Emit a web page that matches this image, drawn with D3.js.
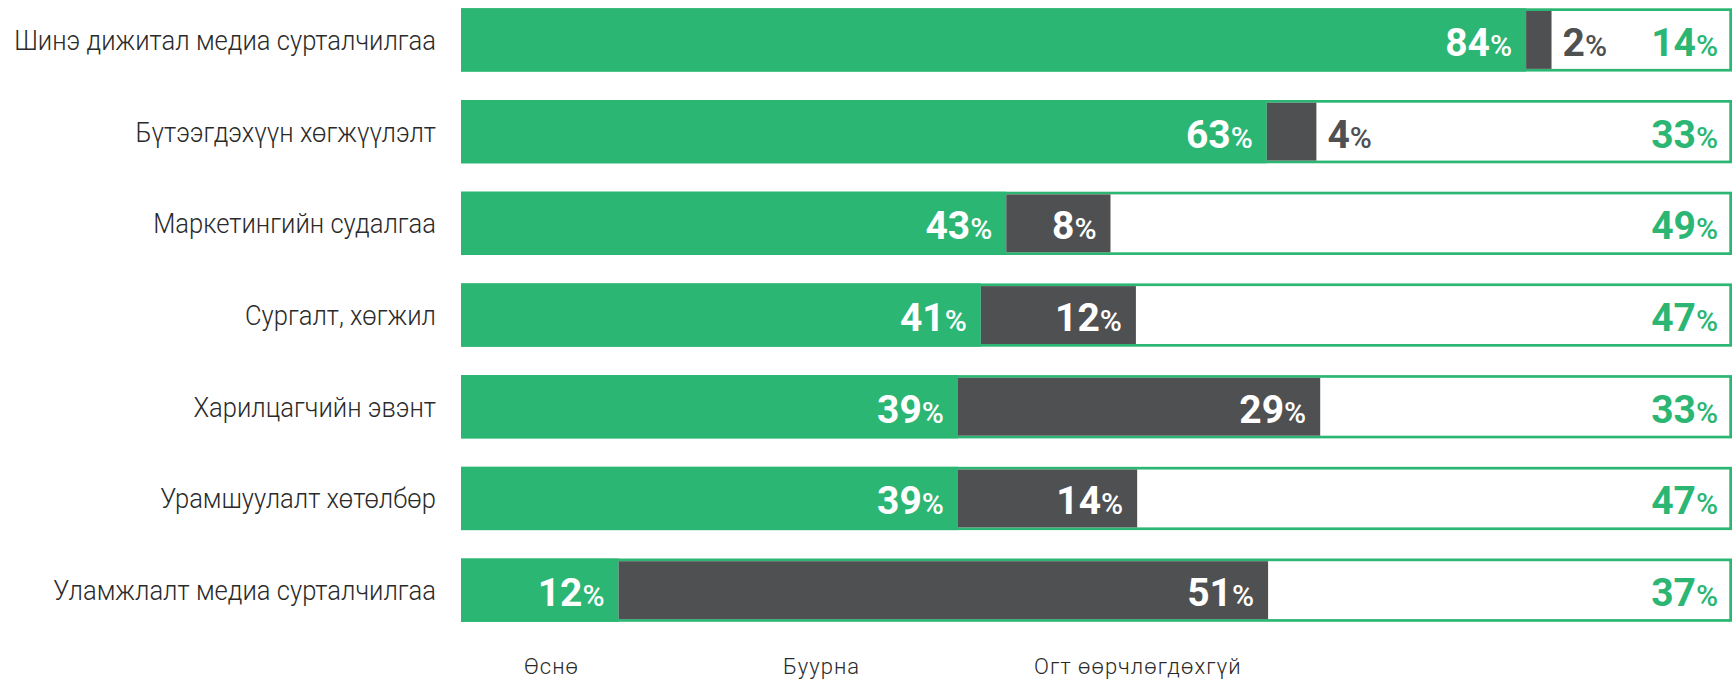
<!DOCTYPE html>
<html>
<head>
<meta charset="utf-8">
<script src="https://cdn.jsdelivr.net/npm/d3@7"></script>
<style>
  html, body { margin: 0; padding: 0; background: #fff; }
  svg { display: block; }
</style>
</head>
<body>
<div id="chart"></div>
<script>
// ---- Data ----
const categories = [
  "Шинэ дижитал медиа сурталчилгаа",
  "Бүтээгдэхүүн хөгжүүлэлт",
  "Маркетингийн судалгаа",
  "Сургалт, хөгжил",
  "Харилцагчийн эвэнт",
  "Урамшуулалт хөтөлбөр",
  "Уламжлалт медиа сурталчилгаа"
];
const increase  = [83.8, 63.4, 42.9, 40.9, 39.1, 39.1, 12.4];
const decrease  = [2.0, 3.9, 8.2, 12.2, 28.5, 14.1, 51.1];
const unchanged = [14.2, 32.7, 48.9, 46.9, 32.5, 46.8, 36.5];
const seriesNames = ["Өснө", "Буурна", "Огт өөрчлөгдөхгүй"];

// ---- Layout ----
const W = 1734, H = 680;
const green = "#2bb673", dark = "#4f5052", textColor = "#2a2a2a";
const sw = 2.7;

const svg = d3.select("#chart").append("svg")
  .attr("width", W).attr("height", H);

const x = d3.scaleLinear().domain([0, 100]).range([461, 1732]);
const y = d3.scaleBand().domain(categories).range([8.3, 621.8]).paddingInner(0.31).paddingOuter(0);
const bh = y.bandwidth();

const rows = categories.map((c, i) => ({
  c, inc: increase[i], dec: decrease[i], unc: unchanged[i]
}));

const g = svg.append("g");
const row = g.selectAll("g.row").data(rows).join("g").attr("class", "row");

// outer box (white with green border)
row.append("rect")
  .attr("x", x(0) + sw / 2)
  .attr("y", d => y(d.c) + sw / 2)
  .attr("width", x(100) - x(0) - sw)
  .attr("height", bh - sw)
  .attr("fill", "#fff")
  .attr("stroke", green)
  .attr("stroke-width", sw);

// increase segment
row.append("rect")
  .attr("x", x(0))
  .attr("y", d => y(d.c))
  .attr("width", d => x(d.inc) - x(0))
  .attr("height", bh)
  .attr("fill", green);

// decrease segment
row.append("rect")
  .attr("x", d => x(d.inc))
  .attr("y", d => y(d.c) + sw)
  .attr("width", d => x(d.inc + d.dec) - x(d.inc))
  .attr("height", bh - 2 * sw)
  .attr("fill", dark);

// category labels (condensed look via horizontal scale)
const labelRight = 436;
const catLabels = row.append("text")
  .attr("text-anchor", "end")
  .attr("font-family", "Roboto, sans-serif")
  .attr("font-weight", 300)
  .attr("font-size", 27.5)
  .attr("fill", textColor)
  .text(d => d.c);
const firstLen = catLabels.node().getComputedTextLength();
const sx = Math.min(1, 422 / firstLen);
catLabels.attr("transform", d => `translate(${labelRight},${y(d.c) + bh / 2 + 10}) scale(${sx},1)`);

function pctLabel(sel, val, color, anchor, xpos) {
  const t = sel.append("text")
    .attr("x", xpos)
    .attr("y", d => y(d.c) + bh / 2 + 16)
    .attr("text-anchor", anchor)
    .attr("font-family", "Roboto, sans-serif")
    .attr("font-weight", 700)
    .attr("fill", color);
  t.append("tspan").attr("font-size", 39).text(d => Math.round(val(d)));
  t.append("tspan").attr("font-size", 30).attr("font-weight", 500).text("%");
}

const gap = 14;
pctLabel(row, d => d.inc, "#fff", "end", d => x(d.inc) - gap);

const inside = row.filter(d => x(d.inc + d.dec) - x(d.inc) > 70);
const outside = row.filter(d => x(d.inc + d.dec) - x(d.inc) <= 70);
pctLabel(inside, d => d.dec, "#fff", "end", d => x(d.inc + d.dec) - gap);
pctLabel(outside, d => d.dec, dark, "start", d => x(d.inc + d.dec) + 11);

pctLabel(row, d => d.unc, green, "end", x(100) - gap);

// bottom legend captions
const legendX = [524, 783, 1034];
svg.append("g").selectAll("text").data(seriesNames).join("text")
  .attr("x", (d, i) => legendX[i])
  .attr("y", 674)
  .attr("font-family", "Roboto, sans-serif")
  .attr("font-weight", 300)
  .attr("font-size", 22)
  .attr("letter-spacing", 1)
  .attr("fill", textColor)
  .text(d => d);
</script>
</body>
</html>
